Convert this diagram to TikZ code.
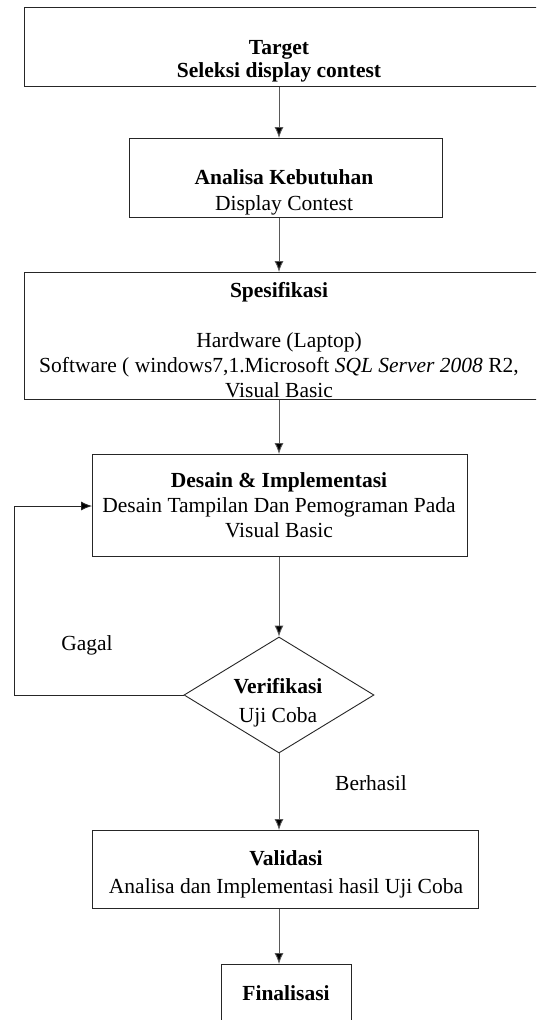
\documentclass[tikz,border=0pt]{standalone}
\usepackage{fontspec}
\setmainfont{Liberation Serif}
\usetikzlibrary{arrows.meta,shapes.geometric}
\begin{document}
\begin{tikzpicture}[x=1pt,y=-1pt,
  box/.style={draw=black!85,line width=0.9pt,rectangle,inner sep=0pt,anchor=north west},
  lbl/.style={anchor=base,inner sep=0pt,font=\fontsize{21.5}{25}\selectfont},
  ttl/.style={anchor=base,inner sep=0pt,font=\fontsize{21.5}{25}\selectfont\bfseries},
  arr/.style={draw=black!65,line width=0.9pt,-{Latex[length=11pt,width=9pt,fill=black]}},
  loop/.style={draw=black!85,line width=0.9pt,-{Latex[length=11pt,width=9pt,fill=black]}}]
\useasboundingbox (0,0) rectangle (536,1020);
\clip (0,0) rectangle (536,1020);
\fill[white] (0,0) rectangle (536,1020);
% boxes
\node[box,minimum width=560pt,minimum height=79pt] (target) at (24,7) {};
\node[box,minimum width=313pt,minimum height=79pt] (analisa) at (129,138) {};
\node[box,minimum width=560pt,minimum height=127pt] (spek) at (24,272) {};
\node[box,minimum width=375pt,minimum height=102pt] (desain) at (92,454) {};
\node[draw=black!85,line width=0.9pt,diamond,minimum width=190pt,minimum height=116pt,inner sep=0pt] (verif) at (279,695) {};
\node[box,minimum width=386pt,minimum height=78pt] (valid) at (92,830) {};
\node[box,minimum width=130pt,minimum height=90pt] (final) at (221,964) {};
% axis and loop point
\coordinate (ax) at (279,0);
\coordinate (lp) at (14,506);
% connectors
\draw[arr] (target.south -| ax) -- (analisa.north -| ax);
\draw[arr] (analisa.south -| ax) -- (spek.north -| ax);
\draw[arr] (spek.south -| ax) -- (desain.north -| ax);
\draw[arr] (desain.south -| ax) -- (verif.north);
\draw[arr] (verif.south) -- (valid.north -| ax);
\draw[arr] (valid.south -| ax) -- (final.north -| ax);
\draw[loop] (verif.west) -| (lp) -- (lp -| desain.west);
% texts
\node[ttl] (t1) at (279,54) {Target};
\node[ttl] (t2) at (279,77) {Seleksi display contest};
\node[ttl] (t3) at (284,184) {Analisa Kebutuhan};
\node[lbl] (t4) at (284,210) {Display Contest};
\node[ttl] (t5) at (279,297) {Spesifikasi};
\node[lbl] (t6) at (279,347) {Hardware (Laptop)};
\node[lbl] (t7) at (279,372) {Software ( windows7,1.Microsoft \textit{SQL Server 2008} R2,};
\node[lbl] (t8) at (279,397) {Visual Basic};
\node[ttl] (t9) at (279,487) {Desain \& Implementasi};
\node[lbl] (t10) at (279,512) {Desain Tampilan Dan Pemograman Pada};
\node[lbl] (t11) at (279,537) {Visual Basic};
\node[ttl] (t12) at (278,693) {Verifikasi};
\node[lbl] (t13) at (278,722) {Uji Coba};
\node[lbl] (gagal) at (87,650) {Gagal};
\node[lbl] (berhasil) at (371,790) {Berhasil};
\node[ttl] (t14) at (286,865) {Validasi};
\node[lbl] (t15) at (286,893) {Analisa dan Implementasi hasil Uji Coba};
\node[ttl] (t16) at (286,1000) {Finalisasi};
\end{tikzpicture}
\end{document}
